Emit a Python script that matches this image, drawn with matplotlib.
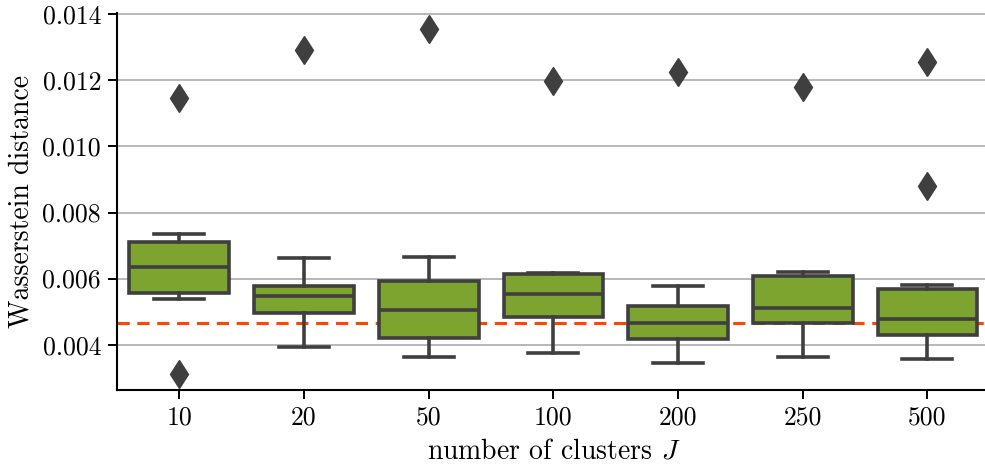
import matplotlib
matplotlib.use("Agg")
import matplotlib.pyplot as plt

plt.rcParams['font.family'] = 'serif'
plt.rcParams['font.serif'] = ['cmr10', 'DejaVu Serif']
plt.rcParams['mathtext.fontset'] = 'cm'
plt.rcParams['axes.unicode_minus'] = False
plt.rcParams['axes.formatter.use_mathtext'] = True

# values (one box per cluster count)
clusters = ['10', '20', '50', '100', '200', '250', '500']
whislo = [0.00538, 0.00394, 0.00364, 0.00376, 0.00344, 0.00363, 0.00357]
q1 = [0.00555, 0.00495, 0.00419, 0.00485, 0.00416, 0.00466, 0.00429]
med = [0.00636, 0.00548, 0.00505, 0.00554, 0.00467, 0.00512, 0.00479]
q3 = [0.00712, 0.00579, 0.00593, 0.00614, 0.00518, 0.00608, 0.00568]
whishi = [0.00735, 0.00662, 0.00666, 0.00618, 0.00578, 0.00619, 0.00580]
fliers = [[0.01148, 0.00311], [0.01293], [0.01357], [0.01199], [0.01226],
          [0.01181], [0.01257, 0.00881]]
reference = 0.004667

box_color = '#7da42e'
line_color = '#3f3f3f'

stats = []
for i in range(len(clusters)):
    stats.append({'med': med[i], 'q1': q1[i], 'q3': q3[i],
                  'whislo': whislo[i], 'whishi': whishi[i],
                  'fliers': fliers[i], 'label': clusters[i]})

fig = plt.figure(figsize=(9.85, 4.72), dpi=100)
ax = fig.add_axes([0.1188, 0.1737, 0.886, 0.7988])

lw = 2.6
ax.bxp(stats, positions=range(len(clusters)), widths=0.8, patch_artist=True,
       boxprops=dict(facecolor=box_color, edgecolor=line_color, linewidth=lw),
       medianprops=dict(color=line_color, linewidth=lw),
       whiskerprops=dict(color=line_color, linewidth=lw),
       capprops=dict(color=line_color, linewidth=lw),
       flierprops=dict(marker='d', markerfacecolor=line_color,
                       markeredgecolor=line_color, markersize=14.5),
       capwidths=0.4, zorder=3)

# reference level, drawn behind the boxes
ax.axhline(reference, color='#ff4500', linestyle=(0, (4, 2.5)),
           linewidth=2.2, zorder=2)

ax.set_xlim(-0.5, 6.5)
ax.set_ylim(0.002627, 0.01404)
ax.set_yticks([0.004, 0.006, 0.008, 0.010, 0.012, 0.014])
ax.set_yticklabels(['0.004', '0.006', '0.008', '0.010', '0.012', '0.014'])
ax.yaxis.grid(True, color='#b8b8b8', linewidth=1.4, zorder=0)
ax.set_axisbelow(True)

for side in ['top', 'right']:
    ax.spines[side].set_visible(False)
for side in ['left', 'bottom']:
    ax.spines[side].set_linewidth(1.5)
ax.tick_params(axis='both', labelsize=18.5, length=6.5, width=1.4, pad=5)

ax.set_xlabel('number of clusters $J$', fontsize=20, labelpad=6)
ax.set_ylabel('Wasserstein distance', fontsize=20, labelpad=6)

fig.savefig('out.png', dpi=100)
